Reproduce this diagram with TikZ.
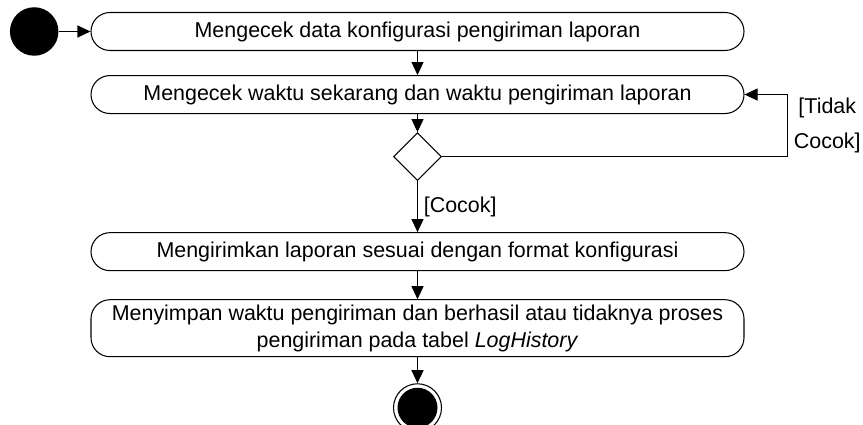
\documentclass[tikz,border=0pt]{standalone}
\usepackage{fontspec}
\setmainfont{Liberation Sans}
\usetikzlibrary{shapes,arrows.meta,positioning,calc}

\begin{document}
\begin{tikzpicture}[
    node distance=0.5cm,
    line width=0.6pt,
    every node/.style={font=\fontsize{12.2}{15.4}\selectfont},
    act/.style={rectangle, draw, minimum width=13.06cm, minimum height=0.76cm, rounded corners=0.38cm, inner sep=0pt, align=center},
    decision/.style={diamond, draw, minimum width=0.96cm, minimum height=0.96cm, inner sep=0pt},
    initial/.style={circle, fill=black, minimum size=0.97cm, inner sep=0pt},
    final/.style={circle, draw, minimum size=0.96cm, inner sep=0pt},
    flow/.style={-{Triangle[length=0.26cm, width=0.24cm]}}
]
    \fill[white] (0,0) rectangle (17.26,-8.5);
    \useasboundingbox (0,0) rectangle (17.26,-8.5);

    % Activities
    \node[act] (cek_data) at (8.35,-0.63) {Mengecek data konfigurasi pengiriman laporan};
    \node[act, below=0.48cm of cek_data] (cek_waktu) {Mengecek waktu sekarang dan waktu pengiriman laporan};
    \node[decision, below=0.36cm of cek_waktu] (cocok) {};
    \node[act, below=1.02cm of cocok] (kirim) {Mengirimkan laporan sesuai dengan format konfigurasi};
    \node[act, minimum height=1.14cm, below=0.56cm of kirim] (simpan) {Menyimpan waktu pengiriman dan berhasil atau tidaknya proses\\pengiriman pada tabel \textit{LogHistory}};

    % Start and end
    \node[initial, left=0.63cm of cek_data] (start) {};
    \node[final, below=0.52cm of simpan] (end) {};
    \node[initial, minimum size=0.8cm] (end_dot) at (end.center) {};

    % Edges
    \draw[flow] (start) -- (cek_data);
    \draw[flow] (cek_data) -- (cek_waktu);
    \draw[flow] (cek_waktu) -- (cocok);
    \draw[flow] (cocok.east) -| ([xshift=0.86cm]cek_waktu.east)
        node[pos=0.75, right, align=center] (tidak_cocok) {[Tidak\\[4.5pt]Cocok]}
        -- (cek_waktu.east);
    \draw[flow] (cocok) -- node[right] (ya_cocok) {[Cocok]} (kirim);
    \draw[flow] (kirim) -- (simpan);
    \draw[flow] (simpan) -- (end);
\end{tikzpicture}
\end{document}
